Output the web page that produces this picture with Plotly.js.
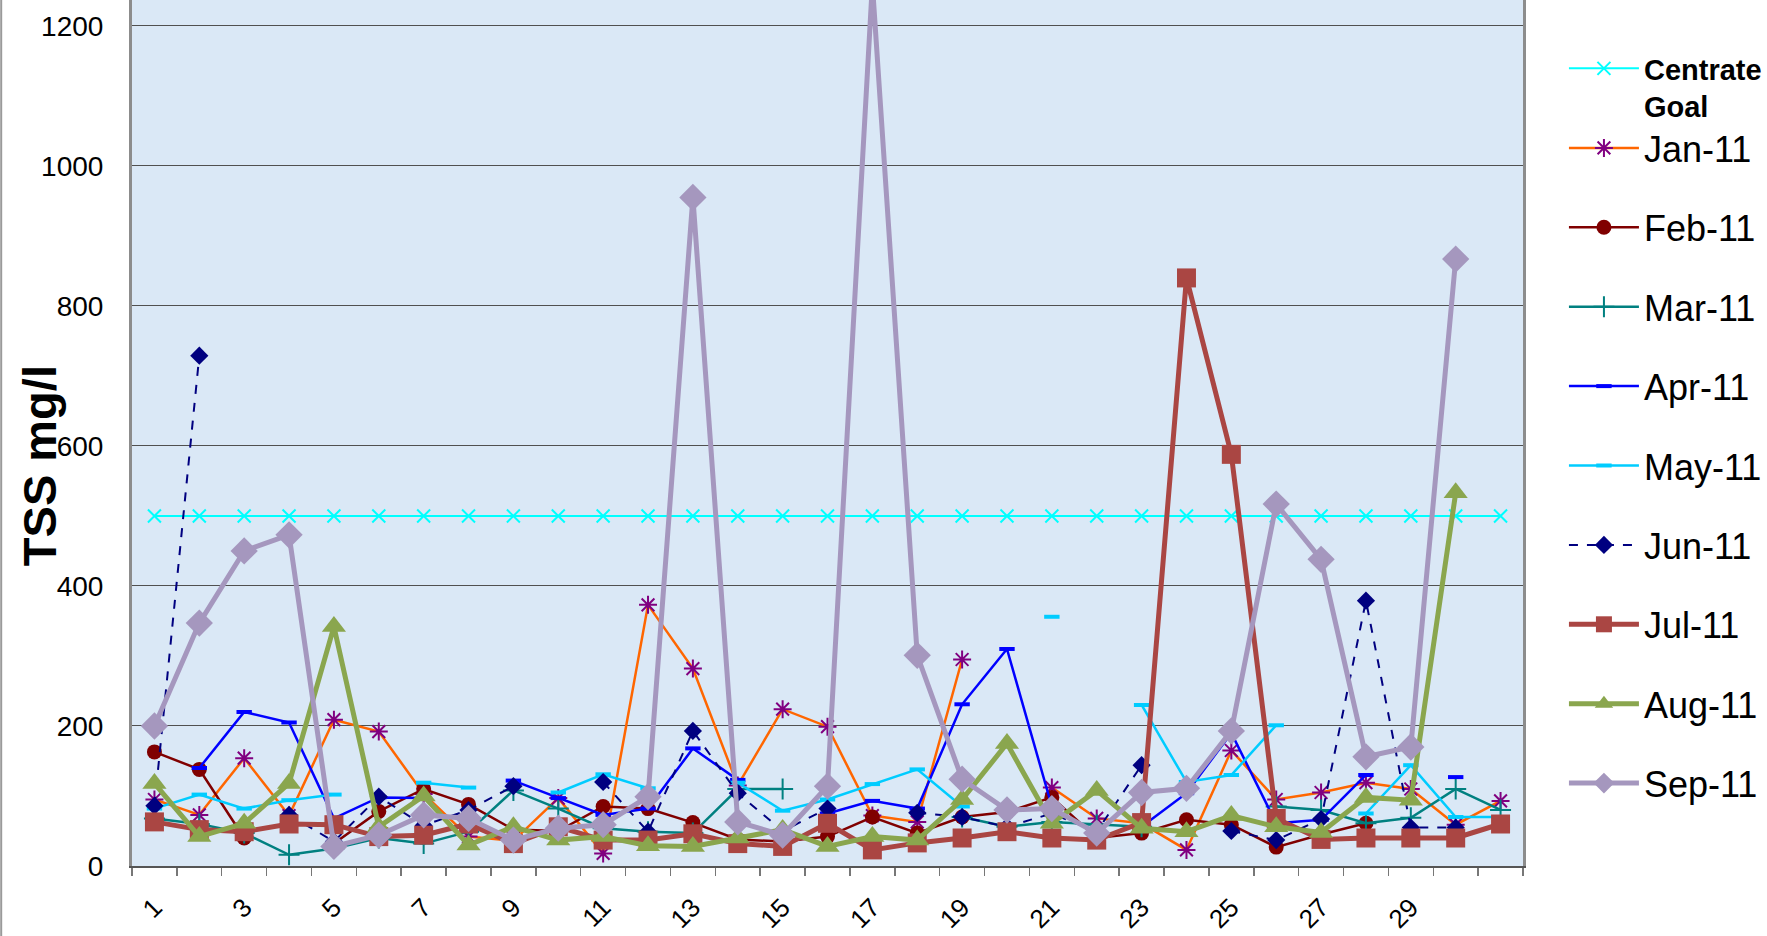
<!DOCTYPE html>
<html><head><meta charset="utf-8">
<script src="https://cdn.plot.ly/plotly-3.0.1.min.js"></script>
<style>html,body{margin:0;padding:0;background:#fff;}#chart{width:1767px;height:936px;}</style>
</head><body><div id="chart"></div>
<script>
// ---- data (TSS mg/l by day of month) ----
const days = [1,2,3,4,5,6,7,8,9,10,11,12,13,14,15,16,17,18,19,20,21,22,23,24,25,26,27,28,29,30,31];
const xTickLabels = ['1','3','5','7','9','11','13','15','17','19','21','23','25','27','29'];
const xTickDays = [1,3,5,7,9,11,13,15,17,19,21,23,25,27,29];
const centrateGoal = [500,500,500,500,500,500,500,500,500,500,500,500,500,500,500,500,500,500,500,500,500,500,500,500,500,500,500,500,500,500,500];
const jan11 = [95,73,154,72,209,192,103,42,36,97,18,373,282,115,224,199,72,63,295,null,112,68,61,23,165,95,105,119,110,59,93];
const feb11 = [163,138,40,null,32,78,110,88,52,50,85,82,62,38,35,42,70,47,70,77,98,40,47,66,59,27,45,61,null,null,null];
const mar11 = [68,60,47,16,25,40,32,49,108,82,54,49,47,110,110,null,null,null,70,56,63,59,56,null,null,85,80,61,69,110,80];
const apr11 = [null,140,220,205,68,98,97,null,122,97,73,82,168,123,null,75,93,82,231,310,85,null,56,104,190,61,66,130,null,127,null];
const may11 = [82,102,82,94,102,null,119,112,null,105,131,111,null,119,79,95,117,138,85,null,356,null,230,120,130,201,null,75,144,70,70];
const jun11 = [86,729,null,73,35,99,58,80,114,null,120,49,193,104,50,82,null,76,70,56,75,49,144,null,50,37,67,379,55,55,null];
const jul11 = [63,52,49,60,59,42,44,60,32,56,37,37,46,32,28,61,23,33,40,49,40,37,62,840,588,68,38,40,40,40,60];
const aug11 = [118,42,61,118,342,56,100,30,56,37,42,29,28,40,52,28,42,37,95,175,61,108,54,49,72,56,48,98,94,533,null];
const sep11 = [200,347,450,473,28,44,73,68,37,54,59,99,955,63,44,114,1260,301,124,80,82,47,105,111,193,517,438,156,170,867,null];

// ---- geometry ----
const W = 1767, H = 936, L = 132, R = 242, T = 0, B = 70;
const pw = W - L - R, ph = H - T - B;
const px2x = p => (p - L) / pw;
const py2y = p => (H - B - p) / ph;
const FONT = 'Liberation Sans, Arial, sans-serif';

function tr(name, y, lineColor, width, symbol, size, mColor, opts) {
  opts = opts || {};
  return {
    type: 'scatter', mode: 'lines+markers', x: days, y: y, name: name,
    legend: opts.legend || 'legend2', legendgroup: name,
    line: {color: lineColor, width: width, dash: opts.dash || 'solid'},
    marker: {symbol: symbol, size: size, color: mColor,
             line: {color: mColor, width: opts.mlw === undefined ? 0 : opts.mlw}},
    connectgaps: false, hoverinfo: 'x+y+name'
  };
}

const data = [
  tr('Centrate<br>Goal', centrateGoal, '#00FFFF', 2, 'x-thin-open', 13, '#00FFFF', {legend: 'legend', mlw: 2}),
  tr('Jan-11', jan11, '#FF6600', 2.5, 'asterisk-open', 15, '#800080', {mlw: 2}),
  tr('Feb-11', feb11, '#800000', 2.5, 'circle', 15, '#800000'),
  tr('Mar-11', mar11, '#008080', 2.5, 'cross-thin-open', 15, '#008080', {mlw: 2}),
  tr('Apr-11', apr11, '#0000FF', 2.5, 'line-ew-open', 11, '#0000FF', {mlw: 4}),
  tr('May-11', may11, '#00CCFF', 2.5, 'line-ew-open', 11, '#00CCFF', {mlw: 4}),
  tr('Jun-11', jun11, '#000080', 2, 'diamond', 14, '#000080', {dash: 'dash'}),
  tr('Jul-11', jul11, '#AA4643', 5, 'square', 19, '#AA4643'),
  tr('Aug-11', aug11, '#8AA64E', 5, 'triangle-up', 21, '#8AA64E'),
  tr('Sep-11', sep11, '#A597BE', 5, 'diamond', 21, '#A597BE')
];

const boundaries = days.map(d => d - 0.5).concat([days[days.length - 1] + 0.5]);

const layout = {
  width: W, height: H,
  margin: {l: L, r: R, t: T, b: B, pad: 0},
  paper_bgcolor: '#FFFFFF', plot_bgcolor: '#DAE8F6',
  font: {family: FONT, color: '#000'},
  showlegend: true,
  xaxis: {
    type: 'linear', range: [0.5, 31.5], autorange: false,
    tickmode: 'array', tickvals: xTickDays, ticktext: xTickLabels,
    tickangle: -45, ticks: 'outside', ticklen: 14, tickcolor: 'rgba(0,0,0,0)',
    tickfont: {family: FONT, size: 26, color: '#000'},
    showgrid: false, zeroline: false,
    showline: true, linecolor: '#555', linewidth: 2,
    minor: {tickmode: 'array', tickvals: boundaries, ticks: 'outside', ticklen: 8, tickcolor: '#777', tickwidth: 1.5, showgrid: false}
  },
  yaxis: {
    range: [0, 1237], autorange: false,
    tickmode: 'array', tickvals: [0,200,400,600,800,1000,1200],
    ticks: 'outside', ticklen: 20, tickcolor: 'rgba(0,0,0,0)',
    tickfont: {family: FONT, size: 28, color: '#000'},
    showgrid: true, gridcolor: '#505050', gridwidth: 1,
    zeroline: false, showline: true, linecolor: '#8C8C8C', linewidth: 3, mirror: true
  },
  legend: {
    x: px2x(1566), y: py2y(43), xanchor: 'left', yanchor: 'top',
    bgcolor: 'rgba(0,0,0,0)', borderwidth: 0, valign: 'top', itemwidth: 70,
    font: {family: FONT, size: 29, color: '#000', weight: 'bold'}
  },
  legend2: {
    x: px2x(1566), y: py2y(118), xanchor: 'left', yanchor: 'top',
    bgcolor: 'rgba(0,0,0,0)', borderwidth: 0, itemwidth: 70,
    traceorder: 'grouped', tracegroupgap: 29.6,
    font: {family: FONT, size: 36, color: '#000'}
  },
  annotations: [{
    text: '<b>TSS mg/l</b>', textangle: -90, showarrow: false,
    xref: 'paper', yref: 'paper', x: px2x(39), y: py2y(466),
    xanchor: 'center', yanchor: 'middle',
    font: {family: FONT, size: 47, color: '#000'}
  }],
  shapes: [{
    type: 'line', xref: 'paper', yref: 'paper',
    x0: px2x(1), x1: px2x(1), y0: py2y(H), y1: py2y(0),
    line: {color: '#9A9A9A', width: 2}
  }]
};

Plotly.newPlot('chart', data, layout, {displayModeBar: false, staticPlot: true});
</script>
</body></html>
